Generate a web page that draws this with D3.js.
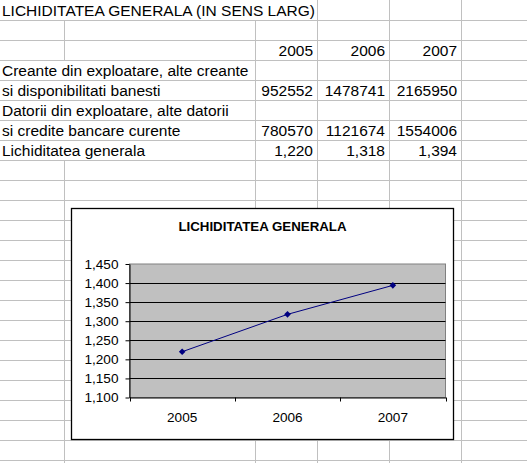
<!DOCTYPE html>
<html><head><meta charset="utf-8">
<script src="https://cdn.jsdelivr.net/npm/d3@7"></script>
<style>
html,body{margin:0;padding:0;background:#fff;}
svg{display:block;}
text{font-family:"Liberation Sans",Arial,sans-serif;}
</style></head>
<body>
<script>
// ---- data ----
const sheetTitle = "LICHIDITATEA GENERALA (IN SENS LARG)";
const years = ["2005", "2006", "2007"];
const rowLabels = ["Creante din exploatare, alte creante", "si disponibilitati banesti",
                   "Datorii din exploatare, alte datorii", "si credite bancare curente",
                   "Lichiditatea generala"];
const creante = [952552, 1478741, 2165950];
const datorii = [780570, 1121674, 1554006];
const lichiditate = [1.220, 1.318, 1.394];
const chartTitle = "LICHIDITATEA GENERALA";
const yTicks = [1.10, 1.15, 1.20, 1.25, 1.30, 1.35, 1.40, 1.45];

const W = 527, H = 463;
const svg = d3.select("body").append("svg").attr("width", W).attr("height", H);
const fmt = v => d3.format(".3f")(v).replace(".", ",");

// ---- spreadsheet grid ----
const colX = [0, 64, 255, 317, 389, 461];
const rowH = 20;
const nRows = 24;
const grid = svg.append("g").attr("stroke", "#c0c0c0").attr("stroke-width", 1);
for (let r = 1; r < nRows; r++) {
  grid.append("line").attr("x1", 0).attr("x2", W)
    .attr("y1", r * rowH + 0.5).attr("y2", r * rowH + 0.5);
}
// rows whose text overflows over certain columns
const hidden = {0: [64, 255], 3: [64], 4: [64], 5: [64], 6: [64], 7: [64]};
for (let r = 0; r < nRows; r++) {
  colX.slice(1).forEach(x => {
    if (hidden[r] && hidden[r].includes(x)) return;
    grid.append("line").attr("x1", x + 0.5).attr("x2", x + 0.5)
      .attr("y1", r * rowH).attr("y2", r * rowH + rowH);
  });
}

const cellText = svg.append("g").attr("font-size", "15.5px").attr("fill", "#000");
const base = r => r * rowH + 16;
cellText.append("text").attr("x", 2).attr("y", base(0)).text(sheetTitle);
years.forEach((y, i) => {
  cellText.append("text").attr("x", colX[i + 3] - 4).attr("y", base(2))
    .attr("text-anchor", "end").text(y);
});
rowLabels.forEach((t, i) => {
  cellText.append("text").attr("x", 2).attr("y", base(3 + i)).text(t);
});
const valueRows = [[4, creante, d => String(d)], [6, datorii, d => String(d)], [7, lichiditate, fmt]];
valueRows.forEach(([r, arr, f]) => {
  arr.forEach((v, i) => {
    cellText.append("text").attr("x", colX[i + 3] - 4).attr("y", base(r))
      .attr("text-anchor", "end").text(f(v));
  });
});

// ---- chart ----
const cx0 = 71, cy0 = 208, cx1 = 454, cy1 = 439;
svg.append("rect").attr("x", cx0 + 0.5).attr("y", cy0 + 0.5)
  .attr("width", cx1 - cx0 - 1).attr("height", cy1 - cy0)
  .attr("fill", "#fff").attr("stroke", "#000").attr("stroke-width", 1.3);

svg.append("text").attr("x", (cx0 + cx1) / 2).attr("y", 231)
  .attr("text-anchor", "middle").attr("font-size", "13.3px").attr("font-weight", "bold")
  .text(chartTitle);

const pL = 129.5, pR = 445.5, pT = 264, pB = 397.5;
const x = d3.scaleBand().domain(years).range([pL, pR]).padding(0);
const y = d3.scaleLinear().domain([1.10, 1.45]).range([pB, pT]);

svg.append("rect").attr("x", pL).attr("y", pT).attr("width", pR - pL).attr("height", pB - pT)
  .attr("fill", "#c0c0c0").attr("stroke", "#808080").attr("stroke-width", 1);

svg.append("g").selectAll("line").data(yTicks.slice(1, -1)).join("line")
  .attr("x1", pL).attr("x2", pR)
  .attr("y1", d => Math.round(y(d)) + 0.5).attr("y2", d => Math.round(y(d)) + 0.5)
  .attr("stroke", "#000").attr("stroke-width", 1);

const yAxis = svg.append("g").attr("transform", `translate(${pL},0)`)
  .call(d3.axisLeft(y).tickValues(yTicks).tickFormat(fmt).tickSize(4).tickSizeOuter(0).tickPadding(7));
yAxis.selectAll("text").attr("font-size", "13.6px").attr("font-family", "Liberation Sans, Arial, sans-serif").attr("fill", "#000");
yAxis.selectAll("line,path").attr("stroke", "#000");

const xAxis = svg.append("g").attr("transform", `translate(0,${pB})`)
  .call(d3.axisBottom(x).tickSize(0).tickPadding(15));
xAxis.selectAll("text").attr("font-size", "13.6px").attr("font-family", "Liberation Sans, Arial, sans-serif").attr("fill", "#000");
xAxis.select("path").attr("stroke", "#000");
const bounds = years.map(d => x(d)).concat([pR]);
svg.append("g").selectAll("line").data(bounds).join("line")
  .attr("x1", d => Math.round(d) + 0.5).attr("x2", d => Math.round(d) + 0.5)
  .attr("y1", pB).attr("y2", pB + 4).attr("stroke", "#000");

const cxp = d => x(d) + x.bandwidth() / 2;
const line = d3.line().x((d, i) => cxp(years[i])).y(d => y(d));
svg.append("path").datum(lichiditate).attr("d", line)
  .attr("fill", "none").attr("stroke", "#000080").attr("stroke-width", 1);
svg.append("g").selectAll("path").data(lichiditate).join("path")
  .attr("d", d3.symbol().type(d3.symbolDiamond2).size(28))
  .attr("transform", (d, i) => `translate(${cxp(years[i])},${y(d)})`)
  .attr("fill", "#000080");
</script>
</body></html>
